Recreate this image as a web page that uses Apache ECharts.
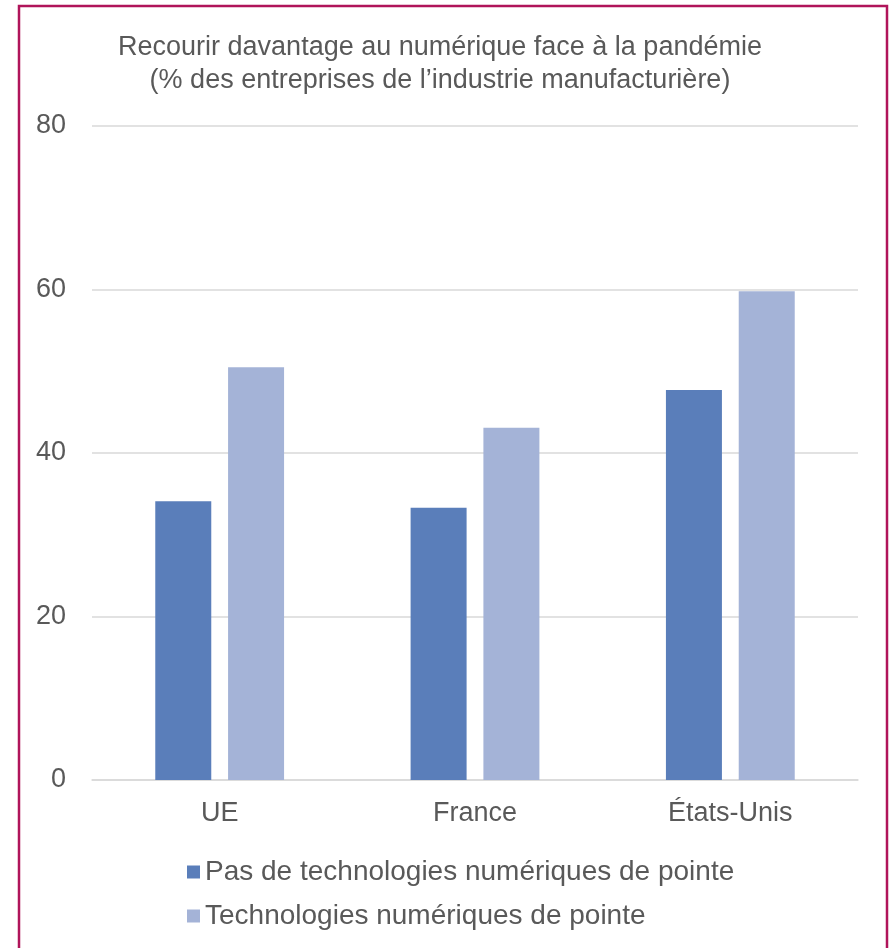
<!DOCTYPE html>
<html lang="fr">
<head>
<meta charset="UTF-8">
<title>Recourir davantage au numérique</title>
<script src="https://cdn.jsdelivr.net/npm/echarts@6/dist/echarts.min.js"></script>
</head>
<body style="margin:0;background:#fff;">
<div id="main" style="width:891px;height:948px;"></div>
<script>
var categories = ['UE', 'France', 'États-Unis'];
var seriesNames = ['Pas de technologies numériques de pointe', 'Technologies numériques de pointe'];
var sansPointe = [34.1, 33.3, 47.7];
var avecPointe = [50.5, 43.1, 59.8];
var yTicks = [0, 20, 40, 60, 80];

var txt = '#595959';
var chart = echarts.init(document.getElementById('main'));

var option = {
    backgroundColor: '#ffffff',
    animation: false,
    textStyle: { fontFamily: 'Liberation Sans, Arial, sans-serif' },
    graphic: [{
        type: 'rect',
        shape: { x: 19, y: 6, width: 868, height: 960 },
        style: { fill: 'none', stroke: '#B0145A', lineWidth: 2.5 },
        silent: true
    }],
    title: {
        text: 'Recourir davantage au numérique face à la pandémie\n(% des entreprises de l\u2019industrie manufacturière)',
        left: 435,
        textAlign: 'center',
        top: 26,
        textStyle: { color: txt, fontSize: 27, fontWeight: 'normal', lineHeight: 33 }
    },
    legend: {
        orient: 'vertical',
        left: 182,
        top: 853,
        itemWidth: 13,
        itemHeight: 13,
        itemGap: 16,
        icon: 'rect',
        textStyle: { color: txt, fontSize: 28, padding: [0, 0, 0, 0] },
        data: seriesNames
    },
    grid: { left: 92, right: 33, top: 126, bottom: 168 },
    xAxis: {
        type: 'category',
        data: categories,
        axisLine: { lineStyle: { color: '#d9d9d9', width: 1.5 } },
        axisTick: { show: false },
        axisLabel: { color: txt, fontSize: 27, margin: 20 }
    },
    yAxis: {
        type: 'value',
        min: yTicks[0],
        max: yTicks[yTicks.length - 1],
        interval: 20,
        axisLine: { show: false },
        axisTick: { show: false },
        splitLine: { lineStyle: { color: '#d9d9d9', width: 1.5 } },
        axisLabel: { color: txt, fontSize: 27, margin: 26 }
    },
    series: [{
        name: seriesNames[0],
        type: 'bar',
        data: sansPointe,
        barWidth: 56,
        barGap: '30%',
        itemStyle: { color: '#5A7EBA' }
    }, {
        name: seriesNames[1],
        type: 'bar',
        data: avecPointe,
        barWidth: 56,
        itemStyle: { color: '#A4B3D7' }
    }]
};

chart.setOption(option);
</script>
</body>
</html>
